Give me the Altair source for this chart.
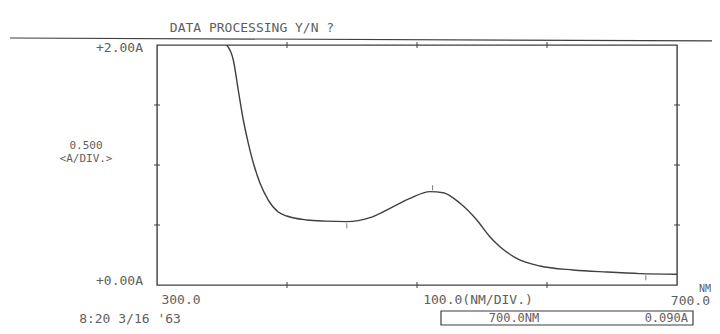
import altair as alt
import pandas as pd

# Spectrum (wavelength nm, absorbance A)
wavelength = [353.6, 358.7, 362.5, 366.4, 370.2, 374.1, 379.2, 385.6, 393.3, 399.8,
              415.2, 430.0, 445.9, 463.8, 479.2, 494.6, 510.0, 520.2, 533.1, 546.0,
              556.2, 563.8, 576.7, 594.6, 620.2, 645.9, 671.5, 700.0]
absorbance = [2.000, 1.875, 1.625, 1.375, 1.183, 1.017, 0.850, 0.708, 0.608, 0.575,
              0.542, 0.532, 0.528, 0.561, 0.639, 0.722, 0.778, 0.769, 0.681, 0.542,
              0.400, 0.319, 0.222, 0.158, 0.125, 0.108, 0.095, 0.090]

# peak / valley markers drawn by the instrument
peak_nm = [512.0]
peak_a = [0.778]
valley_nm = [446.0, 676.0]
valley_a = [0.528, 0.094]

# frame tick positions
x_ticks = [400, 500, 600]
y_ticks = [0.5, 1.0, 1.5]

# printed texts
title_text = "DATA PROCESSING Y/N ?"
y_top_label = "+2.00A"
y_bottom_label = "+0.00A"
y_scale_label = "0.500"
y_unit_label = "<A/DIV.>"
x_left_label = "300.0"
x_mid_label = "100.0(NM/DIV.)"
x_right_label = "700.0"
x_unit_label = "NM"
time_label = "8:20  3/16 '63"
cursor_nm_label = "700.0NM"
cursor_a_label = "0.090A"

INK = "#3f3f3f"
TXT = "#5e5e5e"
FONT = "DejaVu Sans Mono"

xs = alt.Scale(domain=[300, 700], nice=False, zero=False)
ys = alt.Scale(domain=[0, 2], nice=False, zero=False)

spec = pd.DataFrame({"nm": wavelength, "A": absorbance})

curve = alt.Chart(spec).mark_line(color=INK, strokeWidth=1.4, interpolate="monotone", clip=True).encode(
    x=alt.X("nm:Q", scale=xs, axis=None),
    y=alt.Y("A:Q", scale=ys, axis=None),
)

peaks = alt.Chart(pd.DataFrame({"nm": peak_nm, "A": peak_a})).mark_tick(
    orient="vertical", size=5, thickness=1, color=INK, yOffset=-4
).encode(x=alt.X("nm:Q", scale=xs), y=alt.Y("A:Q", scale=ys))

valleys = alt.Chart(pd.DataFrame({"nm": valley_nm, "A": valley_a})).mark_tick(
    orient="vertical", size=5, thickness=1, color=INK, yOffset=4
).encode(x=alt.X("nm:Q", scale=xs), y=alt.Y("A:Q", scale=ys))

xt = pd.DataFrame({"nm": x_ticks * 2, "A": [0.0] * 3 + [2.0] * 3})
xtick = alt.Chart(xt).mark_tick(orient="vertical", size=6, thickness=1.4, color=INK).encode(
    x=alt.X("nm:Q", scale=xs), y=alt.Y("A:Q", scale=ys))

yt = pd.DataFrame({"nm": [300.0] * 3 + [700.0] * 3, "A": y_ticks * 2})
ytick = alt.Chart(yt).mark_tick(orient="horizontal", size=6, thickness=1.4, color=INK).encode(
    x=alt.X("nm:Q", scale=xs), y=alt.Y("A:Q", scale=ys))

top_rule = alt.Chart(pd.DataFrame({"k": [0]})).mark_rule(color=INK, strokeWidth=1.2).encode(
    x=alt.value(-147), x2=alt.value(570), y=alt.value(-7), y2=alt.value(-4))


def label(text, x, y, align="center", size=13):
    return alt.Chart(pd.DataFrame({"t": [text]})).mark_text(
        font=FONT, fontSize=size, color=TXT, align=align, baseline="middle"
    ).encode(text="t:N", x=alt.value(x), y=alt.value(y))


# plot area origin is at page (157, 45)
texts = [
    label(title_text, 252 - 157, 28 - 45),
    label(y_top_label, 143 - 157, 48 - 45, align="right"),
    label(y_bottom_label, 143 - 157, 281 - 45, align="right"),
    label(y_scale_label, 86 - 157, 146 - 45, size=11),
    label(y_unit_label, 86 - 157, 159 - 45, size=11),
    label(x_left_label, 181 - 157, 300 - 45),
    label(x_mid_label, 478 - 157, 300 - 45),
    label(x_right_label, 710 - 157, 301 - 45, align="right"),
    label(x_unit_label, 711 - 157, 289 - 45, align="right", size=10),
    label(time_label, 130 - 157, 319 - 45),
]

box = alt.Chart(pd.DataFrame({"k": [0]})).mark_rect(
    fill="white", stroke=INK, strokeWidth=1.2
).encode(x=alt.value(441 - 157), x2=alt.value(693 - 157), y=alt.value(311 - 45), y2=alt.value(325 - 45))

box_texts = [
    label(cursor_nm_label, 514 - 157, 318 - 45, size=12),
    label(cursor_a_label, 688 - 157, 318 - 45, align="right", size=12),
]

chart = alt.layer(
    top_rule, curve, peaks, valleys, xtick, ytick, *texts, box, *box_texts
).properties(
    width=520,
    height=240,
    background="white",
    autosize=alt.AutoSizeParams(type="none"),
    padding={"left": 149, "top": 37, "right": 35, "bottom": 41},
).configure_view(
    stroke=INK, strokeWidth=1.4
)

chart.save("out.html", embed_options={"renderer": "svg", "actions": False})
